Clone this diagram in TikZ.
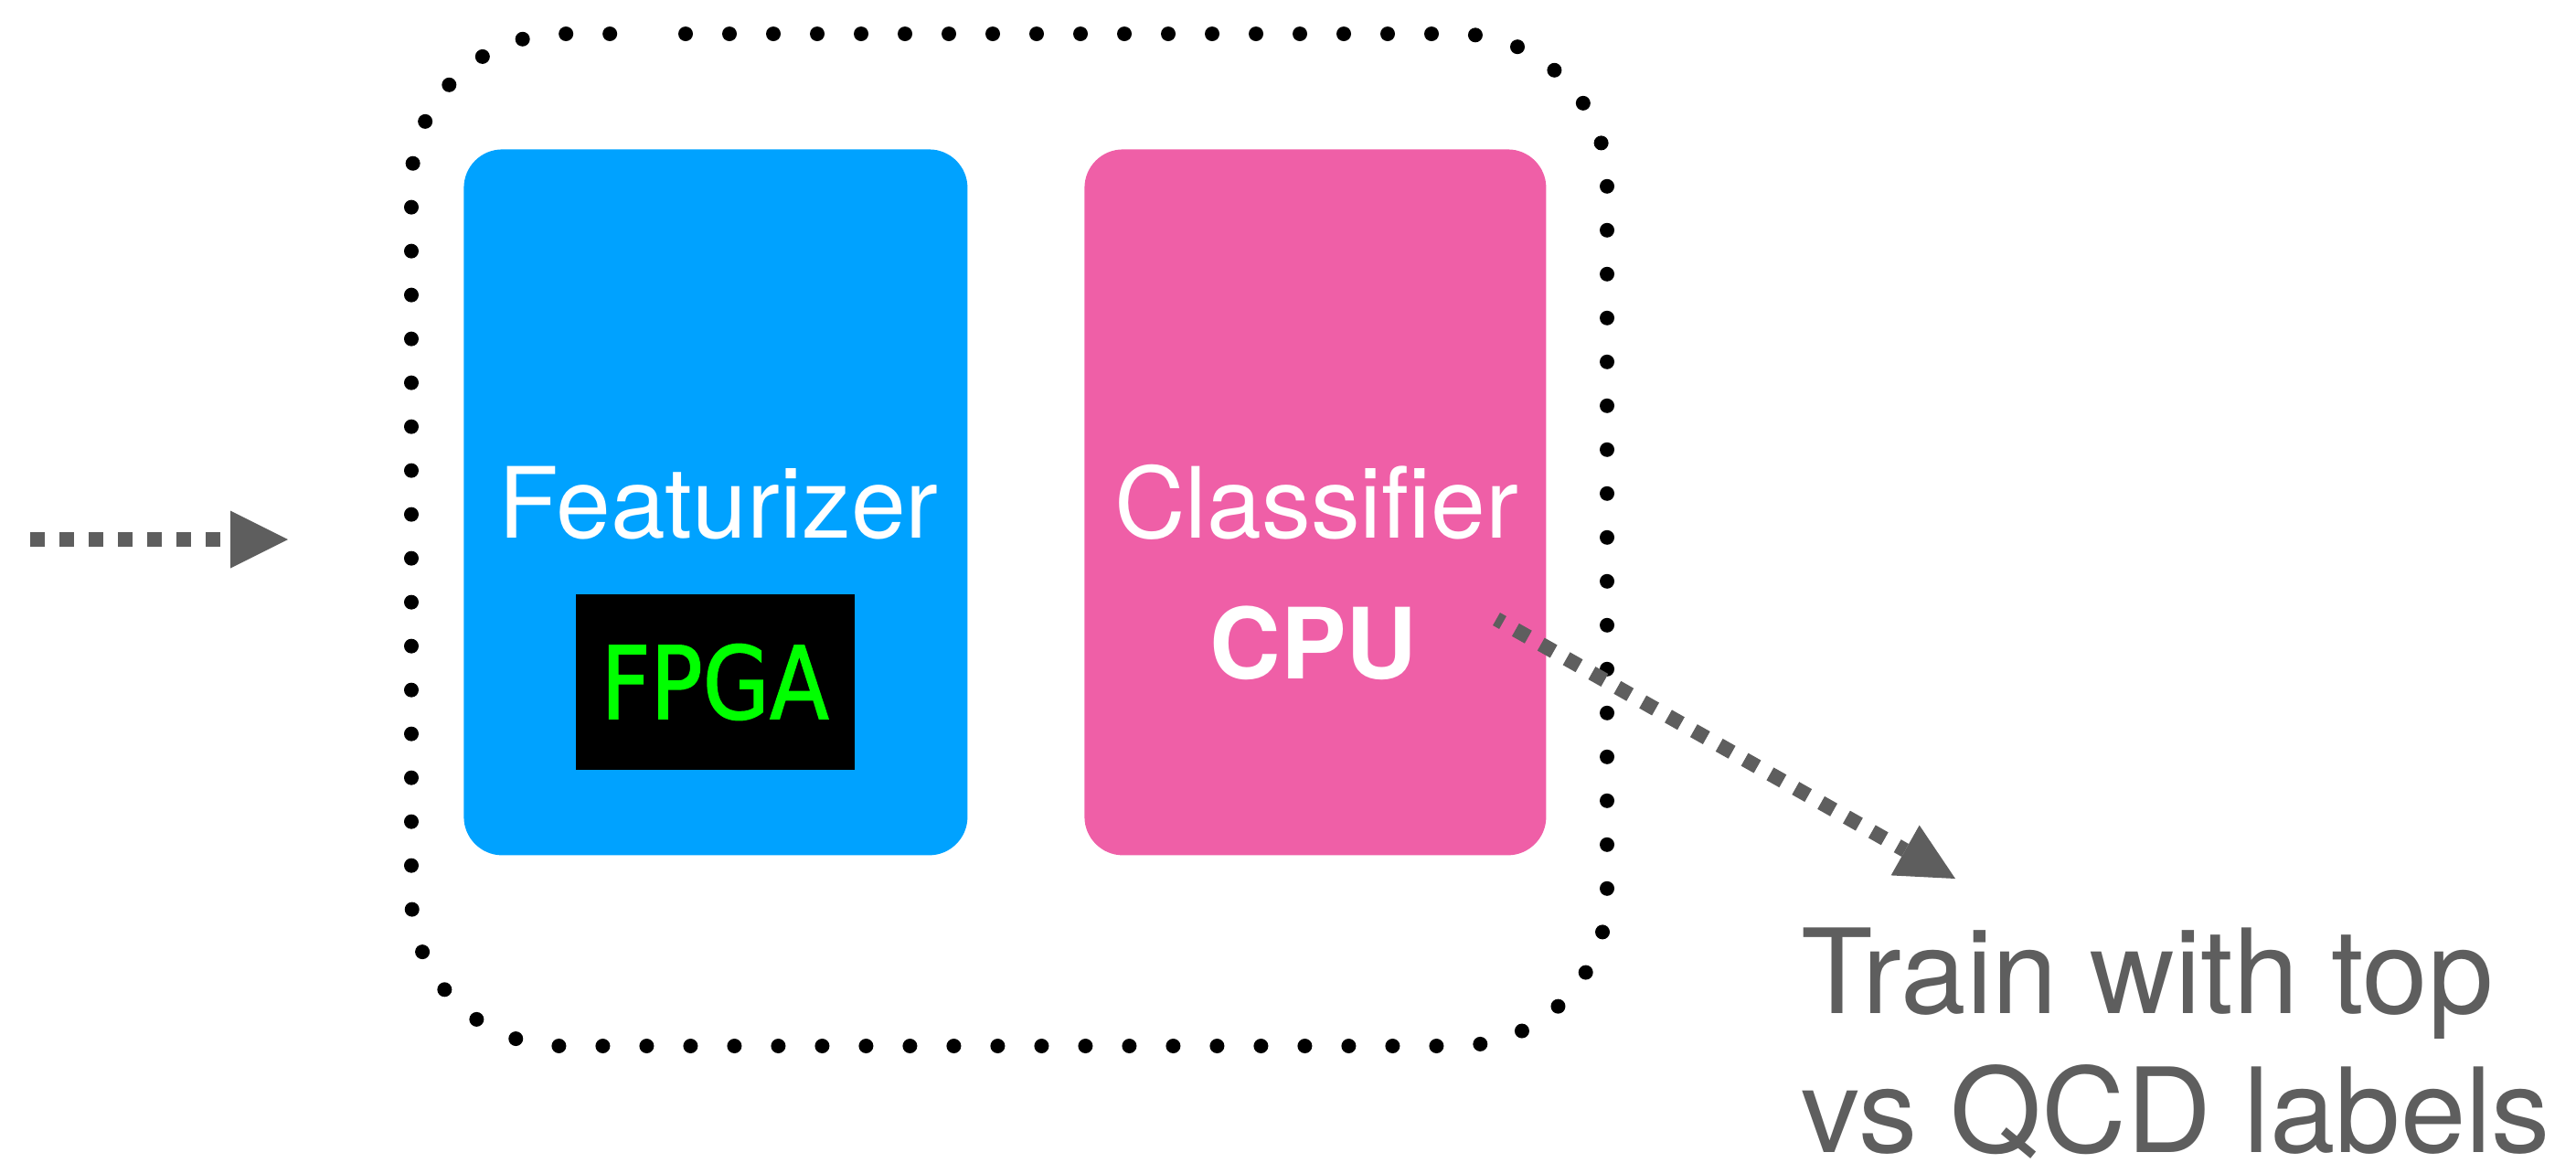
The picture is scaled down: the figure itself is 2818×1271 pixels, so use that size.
\documentclass[tikz,border=0pt]{standalone}
\usepackage{fontspec}
\setmainfont{TeX Gyre Heros}
\newfontfamily\chipfont[FakeBold=1.5]{DejaVu Sans}
\usetikzlibrary{arrows.meta}
\definecolor{featblue}{RGB}{0,162,255}
\definecolor{clspink}{RGB}{239,95,167}
\definecolor{flowgray}{RGB}{94,94,94}
\definecolor{chipgreen}{RGB}{0,255,0}

\begin{document}
\begin{tikzpicture}[x=0.5pt,y=-0.5pt,
  unitbox/.style={rounded corners=21pt, minimum height=386pt, inner sep=0pt, anchor=north west},
  unitname/.style={text=white, font=\fontsize{53.75}{64}\selectfont, anchor=base, inner sep=0pt},
  flow/.style={draw=flowgray, line width=8pt, dash pattern=on 8pt off 8pt,
    -{Triangle[length=31.5pt,width=31.5pt,line width=0pt]}},
  frameline/.style={draw=black, line width=8pt, line cap=round,
    dash pattern=on 0pt off 24pt, rounded corners=82.5pt}]
\useasboundingbox (0,0) rectangle (2818,1271);

% dotted outline around the two stages
\draw[frameline] (750,37) -- (1758,37) -- (1758,1144) -- (450,1144) -- (450,37) -- (702,37);

% stages
\node[unitbox, fill=featblue, minimum width=275.5pt] (feat) at (507,163) {};
\node[unitbox, fill=clspink, minimum width=252.5pt] (cls) at (1186,163) {};

\node[unitname] (featname) at (786,588) {Featurizer};
\node[fill=black, text=chipgreen, minimum width=152.5pt, minimum height=96pt, inner sep=0pt,
  font=\chipfont\fontsize{55}{66}\selectfont] (chip) at (782,746) {\scalebox{0.86}[1]{FPGA}};

\node[unitname] (clsname) at (1440,588) {Classifier};
\node[unitname, font=\bfseries\fontsize{53.75}{64}\selectfont] (cpu) at (1437,742) {CPU};

% training target
\node[text=flowgray, align=left, anchor=north west, inner sep=0pt,
  font=\fontsize{64.25}{76}\selectfont] (goal) at (1970,1014) {Train with top\\vs QCD labels};

% input and output arrows
\coordinate (inStart) at (33,590);
\coordinate (inEnd) at (315,590);
\draw[flow] (inStart) -- (inEnd);

\coordinate (outStart) at (1637,677);
\coordinate (outEnd) at (2139,961);
\draw[flow, dash phase=4pt] (outStart) -- (outEnd);
\end{tikzpicture}
\end{document}
